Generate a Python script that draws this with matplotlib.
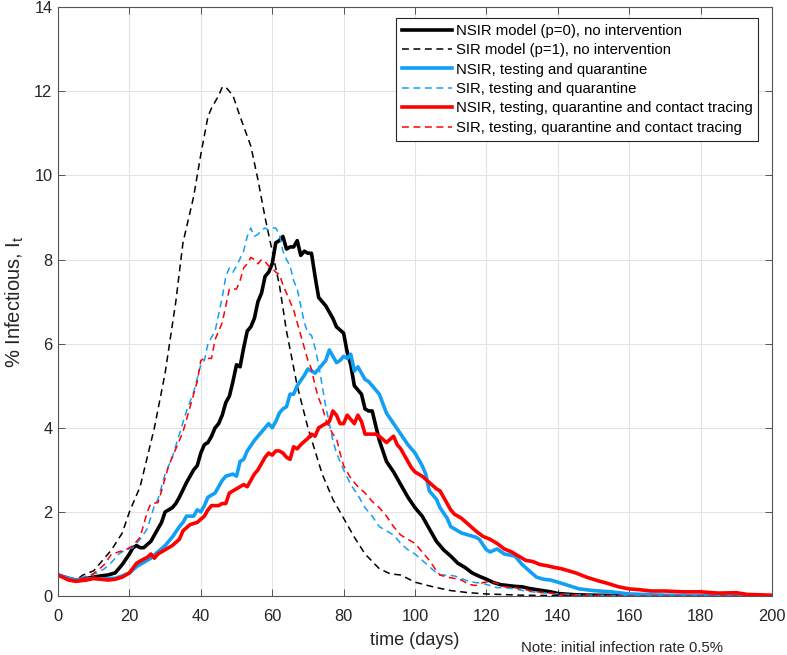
# libraries
import matplotlib
matplotlib.use("Agg")
import matplotlib.pyplot as plt

plt.rcParams['font.family'] = ['Liberation Sans', 'DejaVu Sans']
plt.rcParams['mathtext.fontset'] = 'custom'
plt.rcParams['mathtext.rm'] = 'Liberation Sans'
plt.rcParams['mathtext.it'] = 'Liberation Sans'

# data: days and % infectious
# NSIR model (p=0), no intervention
nsir_none_days = [0, 3, 5, 8, 10, 12, 14, 16, 17, 18,
                  20, 21, 22, 23, 24, 26, 27, 29, 30, 31,
                  32, 33, 34, 36, 38, 39, 40, 41, 42, 43,
                  44, 45, 46, 47, 48, 49, 50, 51, 52, 53,
                  54, 55, 56, 57, 58, 59, 60, 61, 62, 63,
                  64, 65, 66, 67, 68, 69, 70, 71, 72, 73,
                  74, 75, 76, 77, 78, 80, 81, 82, 83, 84,
                  85, 86, 87, 88, 90, 92, 94, 96, 98, 100,
                  102, 104, 106, 108, 110, 112, 114, 116, 118, 120,
                  122, 124, 126, 128, 130, 132, 135, 138, 140, 145,
                  150, 160, 200]
nsir_none_vals = [0.5, 0.42, 0.38, 0.42, 0.45, 0.48, 0.5, 0.55, 0.65, 0.75,
                  1.0, 1.15, 1.2, 1.15, 1.15, 1.3, 1.45, 1.75, 2.0, 2.05,
                  2.1, 2.2, 2.35, 2.7, 3.0, 3.1, 3.4, 3.6, 3.65, 3.8,
                  4.0, 4.1, 4.3, 4.6, 4.75, 5.1, 5.5, 5.45, 5.9, 6.3,
                  6.4, 6.6, 7.0, 7.2, 7.6, 7.7, 7.9, 8.4, 8.45, 8.55,
                  8.25, 8.3, 8.3, 8.45, 8.1, 8.2, 8.15, 8.15, 7.6, 7.1,
                  7.0, 6.9, 6.75, 6.6, 6.4, 6.25, 5.8, 5.5, 5.0, 4.9,
                  4.8, 4.45, 4.4, 4.4, 3.7, 3.2, 2.95, 2.65, 2.35, 2.1,
                  1.9, 1.6, 1.3, 1.1, 0.95, 0.78, 0.68, 0.55, 0.47, 0.4,
                  0.32, 0.27, 0.25, 0.23, 0.22, 0.18, 0.14, 0.1, 0.06, 0.03,
                  0.02, 0.01, 0.0]

# SIR model (p=1), no intervention
sir_none_days = [0, 3, 5, 7, 10, 13, 15, 18, 20, 23,
                 25, 27, 30, 33, 35, 38, 40, 42, 43, 45,
                 46, 47, 49, 51, 54, 56, 58, 60, 62, 64,
                 67, 70, 74, 77, 80, 83, 86, 90, 93, 96,
                 100, 105, 110, 115, 120, 130, 140, 150, 200]
sir_none_vals = [0.5, 0.4, 0.38, 0.5, 0.6, 0.9, 1.1, 1.5, 2.0, 2.6,
                 3.3, 4.0, 5.3, 7.0, 8.4, 9.5, 10.5, 11.4, 11.6, 11.9,
                 12.1, 12.1, 11.9, 11.4, 10.7, 9.9, 9.0, 8.2, 7.4, 6.3,
                 5.0, 4.0, 2.9, 2.3, 1.85, 1.4, 1.0, 0.65, 0.53, 0.5,
                 0.33, 0.22, 0.13, 0.08, 0.05, 0.02, 0.01, 0.0, 0.0]

# NSIR, testing and quarantine
nsir_tq_days = [0, 3, 5, 8, 10, 12, 14, 16, 18, 20,
                22, 24, 26, 28, 30, 32, 34, 35, 36, 38,
                39, 40, 41, 42, 44, 45, 46, 47, 49, 50,
                51, 52, 53, 55, 57, 58, 59, 60, 61, 62,
                63, 64, 65, 66, 67, 69, 70, 71, 72, 73,
                74, 75, 76, 77, 78, 79, 80, 81, 82, 83,
                84, 85, 86, 87, 88, 90, 92, 94, 96, 98,
                100, 102, 103, 104, 106, 107, 109, 110, 111, 113,
                115, 117, 118, 120, 121, 123, 125, 128, 130, 132,
                134, 136, 138, 140, 143, 146, 150, 155, 160, 170,
                180, 200]
nsir_tq_vals = [0.5, 0.42, 0.38, 0.4, 0.42, 0.4, 0.42, 0.42, 0.48, 0.55,
                0.7, 0.8, 0.9, 1.05, 1.2, 1.4, 1.65, 1.75, 1.9, 1.9,
                2.05, 2.0, 2.15, 2.35, 2.45, 2.6, 2.75, 2.85, 2.9, 2.85,
                3.2, 3.25, 3.45, 3.7, 3.9, 4.0, 4.1, 4.0, 4.15, 4.35,
                4.45, 4.5, 4.8, 4.8, 5.0, 5.25, 5.4, 5.35, 5.3, 5.4,
                5.5, 5.6, 5.85, 5.7, 5.55, 5.6, 5.7, 5.65, 5.75, 5.35,
                5.45, 5.3, 5.15, 5.1, 5.0, 4.8, 4.35, 4.1, 3.85, 3.6,
                3.4, 3.1, 2.9, 2.5, 2.3, 2.1, 1.85, 1.65, 1.6, 1.5,
                1.45, 1.4, 1.35, 1.1, 1.05, 1.12, 1.0, 0.95, 0.75, 0.6,
                0.45, 0.4, 0.38, 0.33, 0.25, 0.17, 0.13, 0.1, 0.05, 0.02,
                0.01, 0.0]

# SIR, testing and quarantine
sir_tq_days = [0, 3, 5, 7, 9, 11, 13, 15, 17, 19,
               21, 23, 25, 27, 28, 30, 32, 34, 36, 38,
               40, 41, 42, 44, 46, 47, 48, 49, 50, 52,
               53, 54, 55, 56, 57, 58, 59, 60, 61, 62,
               63, 64, 65, 66, 67, 68, 69, 70, 71, 72,
               73, 74, 75, 76, 77, 78, 80, 82, 84, 86,
               88, 90, 92, 94, 96, 98, 100, 102, 104, 106,
               107, 109, 111, 113, 115, 117, 119, 121, 123, 125,
               127, 129, 131, 135, 140, 145, 150, 160, 180, 200]
sir_tq_vals = [0.5, 0.42, 0.38, 0.45, 0.5, 0.55, 0.65, 0.8, 1.0, 1.1,
               1.15, 1.35, 1.6, 2.15, 2.3, 2.9, 3.3, 3.85, 4.4, 4.85,
               5.5, 5.6, 6.0, 6.3, 7.1, 7.6, 7.8, 7.7, 7.85, 8.2,
               8.55, 8.75, 8.55, 8.6, 8.7, 8.75, 8.7, 8.75, 8.75, 8.6,
               8.2, 8.0, 7.85, 7.5, 7.3, 6.9, 6.5, 6.25, 6.2, 5.9,
               5.5, 5.0, 4.5, 4.1, 3.7, 3.4, 3.0, 2.65, 2.4, 2.1,
               1.9, 1.65, 1.55, 1.45, 1.25, 1.1, 1.0, 0.85, 0.7, 0.55,
               0.5, 0.5, 0.48, 0.42, 0.35, 0.32, 0.3, 0.25, 0.2, 0.2,
               0.18, 0.15, 0.12, 0.08, 0.05, 0.03, 0.02, 0.01, 0.0, 0.0]

# NSIR, testing, quarantine and contact tracing
nsir_tqc_days = [0, 3, 5, 8, 10, 12, 14, 16, 18, 20,
                 22, 24, 25, 26, 27, 28, 30, 32, 34, 35,
                 37, 39, 41, 42, 43, 45, 46, 47, 48, 50,
                 52, 53, 55, 56, 58, 59, 60, 61, 62, 63,
                 64, 65, 66, 67, 68, 70, 71, 72, 73, 75,
                 76, 77, 78, 79, 80, 81, 82, 83, 84, 85,
                 86, 87, 89, 90, 92, 94, 95, 96, 98, 99,
                 100, 102, 104, 106, 107, 108, 110, 111, 113, 115,
                 117, 119, 121, 123, 125, 127, 129, 131, 133, 135,
                 137, 139, 141, 143, 145, 148, 151, 154, 157, 160,
                 163, 166, 170, 175, 180, 185, 190, 193, 200]
nsir_tqc_vals = [0.5, 0.38, 0.35, 0.38, 0.42, 0.4, 0.38, 0.4, 0.45, 0.55,
                 0.78, 0.88, 0.92, 1.0, 0.9, 1.0, 1.1, 1.2, 1.35, 1.55,
                 1.7, 1.75, 1.9, 2.05, 2.15, 2.15, 2.2, 2.2, 2.45, 2.55,
                 2.65, 2.6, 2.9, 3.0, 3.3, 3.4, 3.35, 3.45, 3.45, 3.4,
                 3.3, 3.25, 3.55, 3.5, 3.6, 3.75, 3.85, 3.8, 4.0, 4.1,
                 4.15, 4.4, 4.3, 4.1, 4.1, 4.3, 4.2, 4.1, 4.3, 4.15,
                 3.85, 3.85, 3.85, 3.8, 3.65, 3.8, 3.6, 3.5, 3.2, 3.05,
                 2.95, 2.85, 2.7, 2.55, 2.5, 2.35, 2.05, 1.95, 1.85, 1.7,
                 1.55, 1.42, 1.35, 1.25, 1.12, 1.05, 0.95, 0.85, 0.82, 0.75,
                 0.72, 0.68, 0.65, 0.6, 0.55, 0.45, 0.37, 0.3, 0.22, 0.17,
                 0.15, 0.12, 0.12, 0.1, 0.1, 0.07, 0.08, 0.04, 0.02]

# SIR, testing, quarantine and contact tracing
sir_tqc_days = [0, 3, 5, 7, 9, 11, 13, 15, 17, 19,
                21, 23, 24, 25, 26, 28, 29, 31, 33, 35,
                37, 39, 40, 41, 43, 44, 46, 47, 48, 50,
                51, 52, 53, 54, 55, 56, 57, 58, 59, 60,
                61, 62, 63, 64, 65, 66, 67, 68, 70, 71,
                72, 73, 74, 75, 76, 77, 78, 79, 80, 82,
                84, 86, 88, 90, 92, 94, 96, 98, 100, 102,
                104, 106, 107, 109, 111, 113, 115, 117, 119, 121,
                123, 125, 128, 131, 134, 137, 140, 145, 150, 160,
                200]
sir_tqc_vals = [0.5, 0.4, 0.38, 0.42, 0.48, 0.6, 0.75, 1.0, 1.05, 1.1,
                1.2, 1.4, 1.7, 2.0, 2.2, 2.22, 2.5, 3.1, 3.5, 3.9,
                4.5, 5.1, 5.6, 5.65, 5.65, 6.1, 6.5, 6.9, 7.3, 7.3,
                7.5, 7.8, 7.9, 8.05, 8.0, 7.9, 8.0, 7.95, 7.85, 7.8,
                7.7, 7.65, 7.4, 7.2, 7.0, 6.8, 6.5, 6.2, 5.6, 5.4,
                5.0, 4.7, 4.5, 4.2, 4.0, 3.85, 3.75, 3.4, 3.1, 2.8,
                2.6, 2.45, 2.25, 2.1, 1.9, 1.65, 1.45, 1.35, 1.25, 1.05,
                0.85, 0.6, 0.5, 0.45, 0.42, 0.38, 0.28, 0.25, 0.32, 0.35,
                0.3, 0.22, 0.2, 0.15, 0.1, 0.08, 0.05, 0.02, 0.01, 0.0,
                0.0]

labels = ['NSIR model (p=0), no intervention',
          'SIR model (p=1), no intervention',
          'NSIR, testing and quarantine',
          'SIR, testing and quarantine',
          'NSIR, testing, quarantine and contact tracing',
          'SIR, testing, quarantine and contact tracing']

black = '#000000'
blue = '#12a0f5'
red = '#ff0000'
dash = (0, (4.5, 3))

fig = plt.figure(figsize=(7.87, 6.55), dpi=100)
ax = fig.add_axes([0.0737, 0.090, 0.9073, 0.899])

ax.plot(nsir_none_days, nsir_none_vals, color=black, lw=2.6, label=labels[0])
ax.plot(sir_none_days, sir_none_vals, color=black, lw=1.1, ls=dash, label=labels[1])
ax.plot(nsir_tq_days, nsir_tq_vals, color=blue, lw=2.6, label=labels[2])
ax.plot(sir_tq_days, sir_tq_vals, color=blue, lw=1.1, ls=dash, label=labels[3])
ax.plot(nsir_tqc_days, nsir_tqc_vals, color=red, lw=2.6, label=labels[4])
ax.plot(sir_tqc_days, sir_tqc_vals, color=red, lw=1.1, ls=dash, label=labels[5])

# matlab-ish axes
ax.set_xlim(0, 200)
ax.set_ylim(0, 14)
ax.set_xticks(range(0, 201, 20))
ax.set_yticks(range(0, 15, 2))
ax.grid(True, color='#e3e3e3', lw=0.8)
ax.set_axisbelow(True)
ax.tick_params(direction='in', top=True, right=True, length=5, width=0.7,
               colors='#555555', labelcolor='#262626', labelsize=11.8)
ax.tick_params(axis='x', pad=9)
ax.tick_params(axis='y', pad=4)
for s in ax.spines.values():
    s.set_color('#555555')
    s.set_linewidth(0.8)

ax.set_xlabel('time (days)', fontsize=13, color='#262626', labelpad=6)
ax.set_ylabel('% Infectious, I$_\\mathrm{t}$', fontsize=14.5, color='#262626', labelpad=6)

leg = ax.legend(loc='upper right', bbox_to_anchor=(758 / 787, 1 - 18.3 / 655),
                bbox_transform=fig.transFigure, borderaxespad=0,
                fontsize=10.75, frameon=True, fancybox=False,
                framealpha=1, edgecolor='#262626',
                handlelength=3.35, handletextpad=0.23, labelspacing=0.36,
                borderpad=0.38)
leg.get_frame().set_linewidth(0.8)

fig.text(723 / 787, 1 - 648 / 655, 'Note: initial infection rate 0.5%',
         ha='right', va='center', fontsize=10.7, color='#262626')

fig.savefig('out.png', dpi=100)
